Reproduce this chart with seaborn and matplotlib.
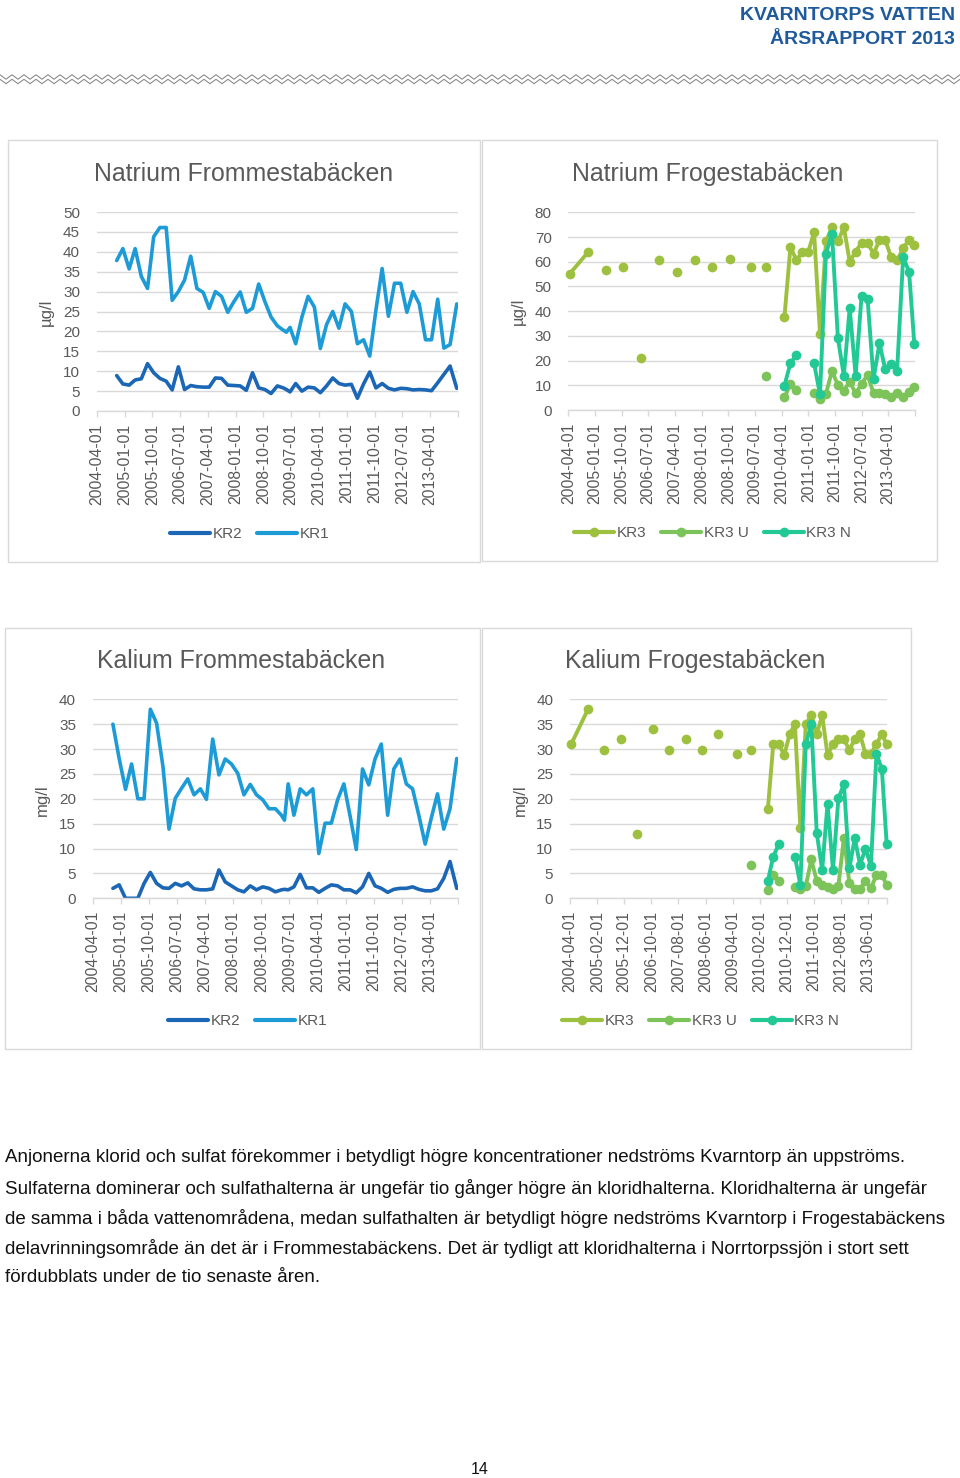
import numpy as np
import pandas as pd
import matplotlib
matplotlib.use("Agg")
import matplotlib.pyplot as plt
import matplotlib.dates as mdates
import seaborn as sns
from matplotlib.patches import Rectangle
from matplotlib.lines import Line2D

# ---------------- DATA ----------------
# Frommestabäcken sampling dates (KR1, KR2)
fromm_dates = ["2004-10-15", "2004-12-15",
               "2005-02-15", "2005-04-15", "2005-06-15", "2005-08-15", "2005-10-15", "2005-12-15",
               "2006-02-15", "2006-04-15", "2006-06-15", "2006-08-15", "2006-10-15", "2006-12-15",
               "2007-02-15", "2007-04-15", "2007-06-15", "2007-08-15", "2007-10-15", "2007-12-15",
               "2008-02-15", "2008-04-15", "2008-06-15", "2008-08-15", "2008-10-15", "2008-12-15",
               "2009-02-15", "2009-04-15", "2009-05-15", "2009-06-20", "2009-08-15", "2009-10-15", "2009-12-15",
               "2010-02-15", "2010-04-15", "2010-06-15", "2010-08-15", "2010-10-15", "2010-12-15",
               "2011-02-15", "2011-04-15", "2011-06-15", "2011-08-15", "2011-10-15", "2011-12-15",
               "2012-02-15", "2012-04-15", "2012-06-15", "2012-08-15", "2012-10-15", "2012-12-15",
               "2013-02-15", "2013-04-15", "2013-06-15", "2013-08-15", "2013-10-15", "2013-12-20"]

na_kr1 = [37.8, 40.8, 35.7, 40.8, 33.8, 30.8, 43.8, 46.1, 46.1, 27.8,
          30.0, 32.9, 38.9, 30.8, 29.8, 25.8, 30.0, 28.8, 24.8, 27.5,
          29.9, 24.8, 25.8, 31.9, 27.5, 23.6, 21.4, 20.3, 19.8, 21.0,
          16.9, 23.6, 28.8, 26.1, 15.7, 21.7, 25.0, 20.8, 26.9, 25.0,
          16.9, 17.9, 13.8, 25.4, 35.8, 23.8, 32.1, 32.1, 24.8, 30.0,
          26.9, 17.9, 17.9, 28.1, 15.8, 16.7, 26.9]
na_kr2 = [8.9, 6.8, 6.5, 7.8, 8.1, 11.9, 9.6, 8.2, 7.5, 5.3,
          11.1, 5.4, 6.4, 6.1, 6.0, 6.0, 8.3, 8.2, 6.5, 6.4,
          6.3, 5.2, 9.6, 5.8, 5.4, 4.4, 6.3, 5.8, 5.4, 4.8,
          6.9, 5.0, 6.0, 5.8, 4.6, 6.3, 8.3, 6.9, 6.5, 6.7,
          3.2, 6.8, 9.8, 5.8, 6.9, 5.7, 5.3, 5.7, 5.6, 5.3,
          5.4, 5.3, 5.1, 7.1, 9.2, 11.3, 5.7]

k_kr1 = [35.0, 28.1, 21.9, 27.0, 20.0, 20.0, 38.0, 35.2, 26.5, 13.9,
         20.1, 22.1, 24.0, 20.8, 22.0, 19.9, 32.0, 24.8, 28.0, 27.0,
         25.1, 20.8, 22.9, 20.8, 19.8, 18.0, 18.0, 16.7, 15.7, 23.0,
         16.7, 22.0, 20.8, 22.0, 9.0, 15.1, 15.1, 19.8, 23.0, 16.4,
         9.8, 26.0, 22.8, 28.0, 31.0, 16.7, 26.0, 28.0, 23.0, 22.0,
         16.7, 10.9, 16.1, 21.0, 13.9, 18.0, 28.1]
k_kr2 = [2.0, 2.7, 0.0, 0.0, 0.0, 3.0, 5.2, 3.0, 2.1, 2.0,
         3.0, 2.5, 3.1, 1.9, 1.7, 1.7, 1.9, 5.7, 3.3, 2.5,
         1.7, 1.3, 2.5, 1.7, 2.3, 2.0, 1.3, 1.7, 1.8, 1.7,
         2.3, 4.8, 2.1, 2.1, 1.2, 2.0, 2.7, 2.5, 1.7, 1.7,
         1.1, 2.3, 5.0, 2.5, 2.0, 1.2, 1.8, 2.0, 2.0, 2.3,
         1.8, 1.5, 1.5, 1.9, 4.0, 7.4, 2.0]

# Frogestabäcken table dates (rows without values for a series leave gaps)
frog_dates = ["2004-04-15", "2004-10-20", "2005-01-15", "2005-04-20", "2005-07-15", "2005-10-20",
              "2006-01-15", "2006-04-20", "2006-07-15", "2006-10-20", "2007-01-15", "2007-04-20",
              "2007-07-15", "2007-10-20", "2008-01-15", "2008-04-20", "2008-07-15", "2008-10-20",
              "2009-02-15", "2009-05-20", "2009-08-15", "2009-10-20", "2010-01-15",
              "2010-05-01", "2010-07-01", "2010-09-01", "2010-11-01", "2011-01-01", "2011-03-01",
              "2011-05-01", "2011-07-01", "2011-09-01", "2011-11-01", "2012-01-01", "2012-03-01",
              "2012-05-01", "2012-07-01", "2012-09-01", "2012-11-01", "2013-01-01", "2013-03-01",
              "2013-05-01", "2013-07-01", "2013-09-01", "2013-11-01", "2013-12-25"]
N = None
na_kr3 = [55.1, 63.8, N, 56.7, N, 57.8, N, 20.9, N, 60.7, N, 56.0, N, 60.7, N, 57.8, N, 61.0,
          N, 57.8, N, 57.8, N,
          37.8, 65.9, 60.7, 63.8, 64.1, 71.9, 30.8, 68.2, 74.0, 68.2, 74.0, 60.0,
          64.1, 67.7, 67.7, 63.2, 68.8, 68.8, 61.8, 60.5, 65.5, 68.8, 66.8]
na_kr3u = [N] * 21 + [13.9, N,
           5.1, 10.4, 8.1, N, N, 6.7, 4.3, 6.5, 15.8, 10.1, 7.8, 11.5,
           6.7, 10.5, 14.2, 6.7, 6.7, 6.5, 5.4, 7.0, 5.4, 7.4, 9.4]
na_kr3n = [N] * 23 + [9.9, 18.9, 22.3, N, N, 18.9, 6.3, 63.2, 71.3, 29.0, 13.9, 41.2,
                      13.9, 46.2, 44.9, 12.6, 27.0, 16.5, 18.5, 15.9, 61.8, 56.0, 26.7]

k_kr3 = [31.0, 38.0, N, 29.8, N, 32.0, N, 12.9, N, 34.0, N, 29.8, N, 32.0, N, 29.8, N, 33.0,
         N, 29.0, N, 29.8, N,
         17.9, 31.0, 31.0, 28.8, 33.0, 35.0, 14.1, 35.0, 36.8, 33.0, 36.8, 28.8,
         31.0, 32.0, 32.0, 29.8, 32.0, 33.0, 29.0, 29.0, 31.0, 33.0, 31.0]
k_kr3u = [N] * 21 + [6.7, N,
          1.7, 4.7, 3.5, N, N, 2.3, 1.8, 2.5, 7.8, 3.5, 2.7, 2.3,
          1.8, 2.5, 12.2, 3.1, 1.8, 1.8, 3.5, 2.0, 4.7, 4.7, 2.7]
k_kr3n = [N] * 23 + [3.5, 8.4, 10.9, N, N, 8.4, 2.7, 31.0, 35.0, 13.1, 5.7, 19.0,
                     5.7, 20.1, 22.9, 6.0, 12.1, 6.7, 10.0, 6.5, 29.0, 26.0, 10.9]

ticks9 = ["2004-04-01", "2005-01-01", "2005-10-01", "2006-07-01", "2007-04-01", "2008-01-01",
          "2008-10-01", "2009-07-01", "2010-04-01", "2011-01-01", "2011-10-01", "2012-07-01",
          "2013-04-01"]
ticks10 = ["2004-04-01", "2005-02-01", "2005-12-01", "2006-10-01", "2007-08-01", "2008-06-01",
           "2009-04-01", "2010-02-01", "2010-12-01", "2011-10-01", "2012-08-01", "2013-06-01"]

colors = {"KR2": "#1b67b5", "KR1": "#1d9bd7",
          "KR3": "#9dc13f", "KR3 U": "#7cc35a", "KR3 N": "#22c995"}

body = ["Anjonerna klorid och sulfat förekommer i betydligt högre koncentrationer nedströms Kvarntorp än uppströms.",
        "Sulfaterna dominerar och sulfathalterna är ungefär tio gånger högre än kloridhalterna. Kloridhalterna är ungefär",
        "de samma i båda vattenområdena, medan sulfathalten är betydligt högre nedströms Kvarntorp i Frogestabäckens",
        "delavrinningsområde än det är i Frommestabäckens. Det är tydligt att kloridhalterna i Norrtorpssjön i stort sett",
        "fördubblats under de tio senaste åren."]

# ---------------- FIGURE ----------------
sns.set_theme(style="white")
plt.rcParams['font.family'] = ['Liberation Sans', 'DejaVu Sans']

W, H = 960, 1478
fig = plt.figure(figsize=(W / 100, H / 100), dpi=100)
fig.patch.set_facecolor("white")


def fx(px):
    return px / W


def fy(py):
    return 1 - py / H


def make_df(dates, series):
    rows = []
    for name, vals in series.items():
        seg, gap = 0, True
        for d, v in zip(dates, vals):
            if v is None:
                gap = True
                continue
            if gap:
                seg += 1
                gap = False
            rows.append((pd.Timestamp(d), v, name, f"{name}_{seg}"))
    return pd.DataFrame(rows, columns=["date", "value", "series", "seg"])


def add_axes(l, t, r, b):
    return fig.add_axes([fx(l), fy(b), fx(r - l), (b - t) / H])


X0 = mdates.date2num(pd.Timestamp("2004-04-01"))
X1 = mdates.date2num(pd.Timestamp("2014-01-01"))
GREY = "#d9d9d9"
TXT = "#595959"


def style(ax, ymax, ystep, ticks):
    ax.set_xlim(X0, X1)
    ax.set_ylim(0, ymax)
    yt = np.arange(0, ymax + 0.1, ystep)
    ax.set_yticks(yt)
    ax.set_yticklabels([str(int(v)) for v in yt])
    ax.grid(False)
    ax.yaxis.grid(True, color=GREY, lw=1)
    ax.set_axisbelow(True)
    for s in ["left", "right", "top"]:
        ax.spines[s].set_visible(False)
    ax.spines["bottom"].set_color(GREY)
    ax.spines["bottom"].set_linewidth(1)
    tk = [mdates.date2num(pd.Timestamp(t)) for t in ticks] + [X1]
    ax.set_xticks(tk)
    ax.set_xticklabels(ticks + [""], rotation=90)
    ax.tick_params(axis="x", direction="out", length=4, width=1, color=GREY,
                   labelsize=11.3, labelcolor=TXT, pad=5, bottom=True)
    ax.tick_params(axis="y", length=0, labelsize=11, labelcolor=TXT, pad=12)
    ax.set_xlabel("")
    ax.set_ylabel("")
    ax.set_facecolor("none")


def legend(names, x, y, markers):
    hs = [Line2D([], [], color=colors[n], lw=3, marker="o" if markers else None,
                 ms=7, mew=0) for n in names]
    fig.legend(hs, names, loc="center left", bbox_to_anchor=(fx(x), fy(y)),
               ncol=len(names), frameon=False, fontsize=11, labelcolor=TXT,
               handlelength=2.62, handletextpad=0.15, columnspacing=1.0,
               borderpad=0, borderaxespad=0)


# panel frames
for (l, t, r, b) in [(8, 140, 480, 562), (482, 140, 937, 561), (5, 628, 480, 1049), (482, 628, 911, 1049)]:
    fig.patches.append(Rectangle((fx(l), fy(b)), fx(r - l), (b - t) / H, transform=fig.transFigure,
                                 fill=False, edgecolor=GREY, lw=1))

TSIZE = 17.9

# Panel 1: Natrium Frommestabäcken
ax1 = add_axes(96.7, 212, 458, 411)
df1 = make_df(fromm_dates, {"KR2": na_kr2, "KR1": na_kr1})
sns.lineplot(data=df1, x="date", y="value", hue="series", units="seg", estimator=None,
             palette=colors, hue_order=["KR2", "KR1"], lw=2.6, legend=False, ax=ax1)
style(ax1, 50, 5, ticks9)
fig.text(fx(244), fy(174), "Natrium Frommestabäcken", ha="center", va="center", fontsize=TSIZE, color=TXT)
fig.text(fx(46), fy(312), "µg/l", ha="center", va="center", rotation=90, fontsize=12, color=TXT)
legend(["KR2", "KR1"], 170, 534, False)

# Panel 2: Natrium Frogestabäcken
ax2 = add_axes(568.3, 212.3, 915, 410)
df2 = make_df(frog_dates, {"KR3": na_kr3, "KR3 U": na_kr3u, "KR3 N": na_kr3n})
sns.lineplot(data=df2, x="date", y="value", hue="series", units="seg", estimator=None,
             palette=colors, hue_order=["KR3", "KR3 U", "KR3 N"], lw=2.8, marker="o",
             markersize=7, markeredgewidth=0, legend=False, ax=ax2, clip_on=False)
style(ax2, 80, 10, ticks9)
fig.text(fx(708), fy(174), "Natrium Frogestabäcken", ha="center", va="center", fontsize=TSIZE, color=TXT)
fig.text(fx(518), fy(311), "µg/l", ha="center", va="center", rotation=90, fontsize=12, color=TXT)
legend(["KR3", "KR3 U", "KR3 N"], 574, 533, True)

# Panel 3: Kalium Frommestabäcken
ax3 = add_axes(92.7, 699.3, 458, 898.3)
df3 = make_df(fromm_dates, {"KR2": k_kr2, "KR1": k_kr1})
sns.lineplot(data=df3, x="date", y="value", hue="series", units="seg", estimator=None,
             palette=colors, hue_order=["KR2", "KR1"], lw=2.6, legend=False, ax=ax3)
style(ax3, 40, 5, ticks9)
fig.text(fx(241), fy(661), "Kalium Frommestabäcken", ha="center", va="center", fontsize=TSIZE, color=TXT)
fig.text(fx(42), fy(800), "mg/l", ha="center", va="center", rotation=90, fontsize=12, color=TXT)
legend(["KR2", "KR1"], 168, 1021, False)

# Panel 4: Kalium Frogestabäcken
ax4 = add_axes(570, 699.3, 887.3, 898.3)
df4 = make_df(frog_dates, {"KR3": k_kr3, "KR3 U": k_kr3u, "KR3 N": k_kr3n})
sns.lineplot(data=df4, x="date", y="value", hue="series", units="seg", estimator=None,
             palette=colors, hue_order=["KR3", "KR3 U", "KR3 N"], lw=2.8, marker="o",
             markersize=7, markeredgewidth=0, legend=False, ax=ax4, clip_on=False)
style(ax4, 40, 5, ticks10)
fig.text(fx(695), fy(661), "Kalium Frogestabäcken", ha="center", va="center", fontsize=TSIZE, color=TXT)
fig.text(fx(520), fy(800), "mg/l", ha="center", va="center", rotation=90, fontsize=12, color=TXT)
legend(["KR3", "KR3 U", "KR3 N"], 562, 1021, True)

# Header
fig.text(fx(955), fy(15), "KVARNTORPS VATTEN", ha="right", va="center", fontsize=14,
         fontweight="bold", color="#1f5a9c")
fig.text(fx(955), fy(39), "ÅRSRAPPORT 2013", ha="right", va="center", fontsize=14,
         fontweight="bold", color="#1f5a9c")

# zigzag divider
zx = np.arange(0, W + 6, 6.0)
zz = np.where(np.arange(len(zx)) % 2 == 0, -2.2, 2.2)
for yc in (77.0, 81.5):
    fig.lines.append(Line2D(fx(zx), fy(yc + zz), transform=fig.transFigure, color="#8c8c8c", lw=0.8))

# Body text
for i, line in enumerate(body):
    fig.text(fx(5), fy(1158 + 30 * i), line, ha="left", va="center", fontsize=13.5, color="#111111")

fig.text(fx(480), fy(1470), "14", ha="center", va="center", fontsize=11.5, color="#111111")

fig.savefig("out.png", dpi=100, facecolor="white")
